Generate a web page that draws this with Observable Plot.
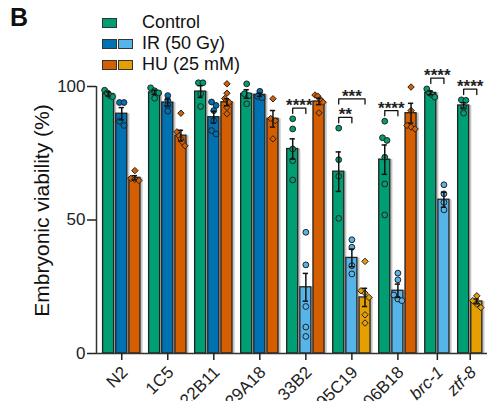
<!DOCTYPE html>
<html><head><meta charset="utf-8">
<script src="https://cdn.jsdelivr.net/npm/d3@7"></script>
<script src="https://cdn.jsdelivr.net/npm/@observablehq/plot@0.6"></script>
<style>
body{margin:0;background:#fff;font-family:"Liberation Sans",Arial,sans-serif;}
#wrap{position:relative;width:489px;height:401px;overflow:hidden;}
#panel{position:absolute;left:10px;top:3px;font-weight:bold;font-size:25px;color:#111;}
.row{position:absolute;left:102px;height:22px;display:flex;align-items:center;font-size:18px;color:#111;}
.sw{width:13px;height:8px;border:1px solid #333;margin-right:1px;}
.lab{position:absolute;left:40px;white-space:nowrap;}
</style></head><body>
<div id="wrap"></div>
<script>
// ---------- data ----------
const genotypes = ["N2","1C5","22B11","29A18","33B2","95C19","06B18","brc-1","ztf-8"];
const italicGenotypes = ["brc-1","ztf-8"];
const legendLabels = ["Control","IR (50 Gy)","HU (25 mM)"];

const controlMean = [97.2, 97.8, 98.1, 97.2, 76.6, 68.1, 72.6, 97.6, 92.9];
const controlSem  = [0.8, 0.8, 2.2, 1.6, 3.8, 7.4, 5.5, 0.7, 1.0];
const irMean = [89.8, 94.0, 88.5, 96.9, 24.8, 35.8, 23.5, 57.6, null];
const irSem  = [2.3, 1.3, 2.2, 0.6, 5.2, 3.3, 2.5, 2.8, null];
const huMean = [65.8, 81.6, 94.1, 87.9, 94.4, 21.0, 90.0, null, 19.5];
const huSem  = [0.8, 2.0, 1.3, 3.1, 1.2, 3.4, 3.7, null, 0.9];

// light shade = significantly reduced vs control
const irSignificant = [false, false, false, false, true, true, true, true, null];
const huSignificant = [false, false, false, false, false, true, false, null, true];

const controlPoints = [
  [98.6, 97.6, 96.6, 96.2], [99.5, 98.4, 97.6, 95.6], [101.4, 101.4, 97.3, 92.5],
  [101, 97.3, 96.6, 93.5], [87.9, 84.1, 76.6, 72.2, 65], [84.4, 72.6, 66.4, 50.6],
  [87, 80.8, 79.8, 73.5, 63.5, 51.9], [99.1, 97.6, 96.9, 96], [95, 94.8, 92.2, 90]
];
const irPoints = [
  [94, 94, 87, 85.4], [96.6, 94.8, 92.9, 90.8], [94.2, 92.9, 91, 87.2, 83.5, 82.2],
  [98.2, 96.3, 95.8], [45.4, 33.2, 17.6, 9.9, 6.4], [42.6, 39.8, 32.9, 29.8],
  [30.1, 27.6, 21.9, 20.4, 19.8], [63.2, 59.8, 56.6, 53.8], null
];
const huPoints = [
  [68.5, 65.6, 65.2, 64.8], [90, 83, 81.5, 80.4, 79, 77.8], [101, 97.5, 95.5, 94.1, 92.2, 89.8],
  [95.4, 88, 87.2, 80.4], [96.8, 96.4, 95.2, 94.1, 90.1], [34.5, 23.5, 22.6, 21, 14.5, 11.4],
  [99.8, 91, 85.4, 84.8, 84.1], null, [21.6, 19.8, 18.5, 17.2]
];

// significance brackets
const sigGenotype = ["33B2", "95C19", "95C19", "06B18", "brc-1", "ztf-8"];
const sigTo       = ["IR", "IR", "HU", "IR", "IR", "HU"];
const sigLabel    = ["****", "**", "***", "****", "****", "****"];
const sigTier     = [0, 0, 1, 0, 0, 0];

const yTicks = [0, 50, 100];

// ---------- layout ----------
const W = 489, H = 401, mL = 96, mR = 2, mT = 86, mB = 48;
const barWidth = 0.84, groupGap = 0.5;
const palette = {Control: "#009E73", IR: ["#0072B2", "#56B4E9"], HU: ["#D55E00", "#E69F00"]};
const series = [
  {key: "Control", mean: controlMean, sem: controlSem, pts: controlPoints, sig: null, symbol: "circle"},
  {key: "IR", mean: irMean, sem: irSem, pts: irPoints, sig: irSignificant, symbol: "circle"},
  {key: "HU", mean: huMean, sem: huSem, pts: huPoints, sig: huSignificant, symbol: "diamond2"}
];

const bars = [], dots = [], centers = [];
let cursor = 0.5;
genotypes.forEach((g, gi) => {
  const present = series.filter(s => s.mean[gi] != null);
  present.forEach((s, k) => {
    const x1 = cursor + k;
    const color = s.key === "Control" ? palette.Control : palette[s.key][s.sig[gi] ? 1 : 0];
    bars.push({genotype: g, series: s.key, x1, x2: x1 + barWidth, xc: x1 + barWidth / 2,
      mean: s.mean[gi], lo: s.mean[gi] - s.sem[gi], hi: s.mean[gi] + s.sem[gi], color,
      pts: s.pts[gi], symbol: s.symbol});
  });
  centers.push(cursor + (present.length - 1) / 2 + barWidth / 2);
  cursor += present.length + groupGap;
});
const xMax = (W - mL - mR) / 13.15;
const pxX = (W - mL - mR) / xMax, pxY = (H - mT - mB) / 100;

// simple symmetric dodge of replicate points inside each bar
bars.forEach(b => {
  const sorted = [...b.pts].sort((a, c) => c - a);
  const clusters = [];
  sorted.forEach(v => {
    const last = clusters[clusters.length - 1];
    if (last && (last[last.length - 1] - v) * pxY < 4.5) last.push(v); else clusters.push([v]);
  });
  clusters.forEach(cl => {
    const step = Math.min(4.5, 8 / Math.max(1, cl.length - 1));
    cl.forEach((v, i) => {
      const off = (i - (cl.length - 1) / 2) * step / pxX;
      dots.push({x: b.xc + off, y: v, color: b.color, symbol: b.symbol});
    });
  });
});

// brackets
const brackets = [], bracketLines = [];
sigGenotype.forEach((g, i) => {
  const from = bars.find(b => b.genotype === g && b.series === "Control");
  const to = bars.find(b => b.genotype === g && b.series === sigTo[i]);
  const level = Math.max(...from.pts, ...to.pts) + 4 + sigTier[i] * 7;
  brackets.push({x: (from.xc + to.xc) / 2, y: level, label: sigLabel[i]});
  [[from.xc, level - 2], [from.xc, level], [to.xc, level], [to.xc, level - 2]]
    .forEach(([x, y]) => bracketLines.push({id: i, x, y}));
});

const nameByCenter = new Map(centers.map((c, i) => [c, genotypes[i]]));

const plot = Plot.plot({
  width: W, height: H,
  marginLeft: mL, marginRight: mR, marginTop: mT, marginBottom: mB,
  style: {fontFamily: '"Liberation Sans", Arial, sans-serif', color: "#222", background: "white"},
  x: {type: "linear", domain: [0, xMax]},
  y: {domain: [0, 100]},
  marks: [
    Plot.rectY(bars, {x1: "x2", x2: d => d.x2 + 0.2, y1: 0, y2: "mean", fill: "#c4c4c4"}),
    Plot.rectY(bars, {x1: "x1", x2: "x2", y1: 0, y2: "mean", fill: "color", stroke: "#222", strokeWidth: 1.3}),
    Plot.dot(dots, {x: "x", y: "y", fill: "color", symbol: "symbol", r: 2.9, stroke: "#222", strokeWidth: 1}),
    Plot.ruleX(bars, {x: "xc", y1: "lo", y2: "hi", stroke: "#111", strokeWidth: 1.5}),
    Plot.ruleY(bars, {x1: d => d.xc - 0.2, x2: d => d.xc + 0.2, y: "hi", stroke: "#111", strokeWidth: 1.5}),
    Plot.ruleY(bars, {x1: d => d.xc - 0.2, x2: d => d.xc + 0.2, y: "lo", stroke: "#111", strokeWidth: 1.5}),
    Plot.line(bracketLines, {x: "x", y: "y", z: "id", stroke: "#111", strokeWidth: 1.3}),
    Plot.text(brackets, {x: "x", y: "y", text: "label", fontSize: 17, fontWeight: "bold", lineAnchor: "bottom", dy: 3, fill: "#222"}),
    Plot.ruleY([0], {stroke: "#333", strokeWidth: 1.5}),
    Plot.ruleX([0], {stroke: "#333", strokeWidth: 1.5}),
    Plot.axisY({ticks: yTicks, tickSize: 9, tickPadding: 2, fontSize: 17, label: null, strokeWidth: 1.5}),
    Plot.axisX({ticks: centers, tickFormat: d => nameByCenter.get(d), tickRotate: -45, tickSize: 7,
      tickPadding: 2, fontSize: 17, label: null, strokeWidth: 1.5}),
    Plot.text(["Embryonic viability (%)"], {frameAnchor: "left", textAnchor: "middle", rotate: -90,
      fontSize: 21, dx: -54, dy: -9.5, fill: "#111"})
  ]
});

// shift rotated x tick labels down/right to match original placement; italic gene names
d3.select(plot).selectAll('[aria-label="x-axis tick label"]').attr("transform", function() {
  const t = this.getAttribute("transform") || "";
  return t + " translate(3,7)";
});
d3.select(plot).selectAll("text")
  .filter(function() { return italicGenotypes.includes(this.textContent); })
  .attr("font-style", "italic");

const wrap = document.getElementById("wrap");
wrap.appendChild(plot);

const panel = document.createElement("div");
panel.id = "panel"; panel.textContent = "B";
wrap.appendChild(panel);

const legendSwatches = [[palette.Control], palette.IR, palette.HU];
const rowCenters = [22.8, 43.5, 64.8];
legendLabels.forEach((lab, i) => {
  const row = document.createElement("div");
  row.className = "row";
  row.style.top = (rowCenters[i] - 11) + "px";
  legendSwatches[i].forEach(c => {
    const s = document.createElement("div");
    s.className = "sw"; s.style.background = c;
    row.appendChild(s);
  });
  const t = document.createElement("span");
  t.className = "lab"; t.textContent = lab;
  row.appendChild(t);
  wrap.appendChild(row);
});
</script>
</body></html>
